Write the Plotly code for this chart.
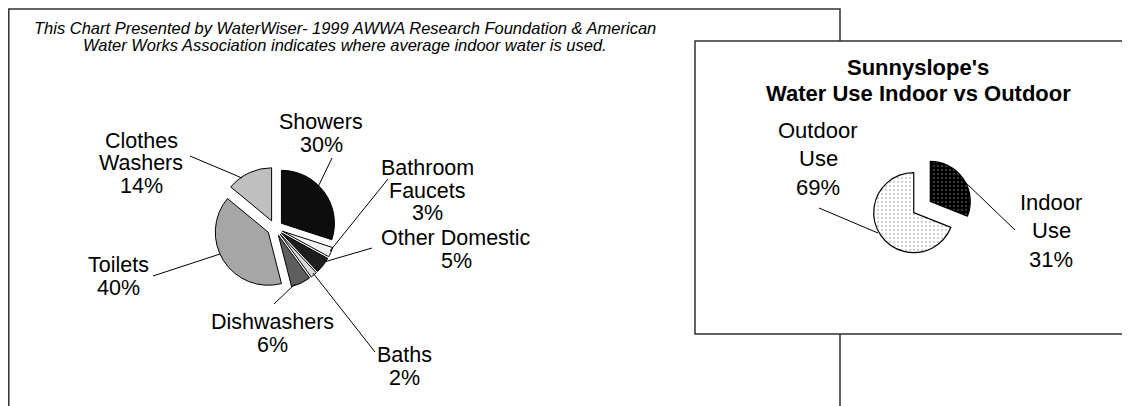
import plotly.graph_objects as go

# page body has an 8px margin; the figure fills the rest of the 1130x406 window
OX, OY = 8, 8
W, H = 1130 - OX, 406 - OY

# ---------------- data ----------------
indoor_categories = ["Showers", "Bathroom\nFaucets", "Other Domestic", "Baths",
                     "Dishwashers", "Toilets", "Clothes\nWashers"]
indoor_values = [30, 3, 5, 2, 6, 40, 14]
indoor_colors = ["#0d0d0d", "#f4f4f4", "#1e1e1e", "#d9d9d9", "#5e5e5e", "#a6a6a6", "#bfbfbf"]

split_categories = ["Indoor\nUse", "Outdoor\nUse"]
split_values = [31, 69]

subtitle_lines = ["This Chart Presented by WaterWiser- 1999 AWWA Research Foundation & American",
                  "Water Works Association indicates where average indoor water is used."]
right_title_lines = ["Sunnyslope's", "Water Use Indoor vs Outdoor"]

# ---------------- layout helpers (window pixel -> paper) ----------------
def px(x):
    return (x - OX) / W

def py(y):
    return 1 - (y - OY) / H

FONT = "Liberation Sans, Arial, sans-serif"

fig = go.Figure()

# left pie
lc = (275, 228); lr = 53; lpull = 0.15
lh = lr * (1 + lpull)
fig.add_trace(go.Pie(
    labels=[c.replace("\n", " ") for c in indoor_categories],
    values=indoor_values,
    sort=False, direction="clockwise", rotation=0,
    pull=[lpull] * len(indoor_values),
    marker=dict(colors=indoor_colors, line=dict(color="#000000", width=1)),
    textinfo="none", hoverinfo="label+percent",
    domain=dict(x=[px(lc[0] - lh), px(lc[0] + lh)], y=[py(lc[1] + lh), py(lc[1] - lh)]),
    showlegend=False,
))

# right pie
rc = (922, 207); rr = 40; rpull = 0.25
rh = rr * (1 + rpull)
fig.add_trace(go.Pie(
    labels=[c.replace("\n", " ") for c in split_categories],
    values=split_values,
    sort=False, direction="clockwise", rotation=0,
    pull=[rpull, rpull],
    marker=dict(
        colors=["#000000", "#ffffff"],
        line=dict(color="#000000", width=1.2),
        pattern=dict(shape=[".", "."], fgcolor=["#8c8c8c", "#909090"],
                     bgcolor=["#000000", "#ffffff"], size=4, solidity=0.12),
    ),
    textinfo="none", hoverinfo="label+percent",
    domain=dict(x=[px(rc[0] - rh), px(rc[0] + rh)], y=[py(rc[1] + rh), py(rc[1] - rh)]),
    showlegend=False,
))

shapes = []
# left box
shapes.append(dict(type="rect", xref="paper", yref="paper", layer="below",
                   x0=px(8.8), x1=px(840), y0=py(9), y1=py(440),
                   line=dict(color="#303030", width=1.5), fillcolor="rgba(0,0,0,0)"))
# right box (covers left box)
shapes.append(dict(type="rect", xref="paper", yref="paper", layer="below",
                   x0=px(695), x1=px(1160), y0=py(41), y1=py(334),
                   line=dict(color="#303030", width=1.5), fillcolor="#ffffff"))

annotations = []

def add_lines(lines, cx, y0, dy, size, bold=False, italic=False):
    for i, t in enumerate(lines):
        txt = t
        if bold:
            txt = "<b>" + txt + "</b>"
        if italic:
            txt = "<i>" + txt + "</i>"
        annotations.append(dict(text=txt, x=px(cx), y=py(y0 + i * dy), xref="paper", yref="paper",
                                xanchor="center", yanchor="middle", showarrow=False,
                                font=dict(family=FONT, size=size, color="#000000")))

def leader(x0, y0, x1, y1):
    shapes.append(dict(type="line", xref="paper", yref="paper", layer="above",
                       x0=px(x0), y0=py(y0), x1=px(x1), y1=py(y1),
                       line=dict(color="#000000", width=1)))

# subtitle
add_lines(subtitle_lines, 345, 28, 17, 16.5, italic=True)

# left labels: (center x, first line y), leader (label end -> slice edge)
left_label_pos = [(321, 122), (427, 168), (456, 238), (404, 355), (272, 322), (118, 265), (141, 141)]
left_leaders = [(332, 158, 318, 187), (388, 179, 330, 251), (372, 248, 324, 262),
                (375, 352, 313, 273), (274, 304, 295, 284), (153, 276, 220, 254),
                (190, 156, 242, 178)]
for cat, val, (cx, cy), ld in zip(indoor_categories, indoor_values, left_label_pos, left_leaders):
    lines = cat.split("\n") + [f"{val}%"]
    add_lines(lines, cx, cy, 22.5, 21.5)
    leader(*ld)

# right title
add_lines(right_title_lines, 918, 67, 27, 22, bold=True)

right_label_pos = [(1051, 202), (818, 130)]
right_leaders = [(1015, 230, 965, 182), (819, 208, 878, 233)]
for cat, val, (cx, cy), ld in zip(split_categories, split_values, right_label_pos, right_leaders):
    lines = cat.split("\n") + [f"{val}%"]
    add_lines(lines, cx, cy, 28.5, 22)
    leader(*ld)

fig.update_layout(
    width=W, height=H, autosize=False,
    margin=dict(l=0, r=0, t=0, b=0),
    paper_bgcolor="#ffffff", plot_bgcolor="#ffffff",
    shapes=shapes, annotations=annotations,
    font=dict(family=FONT),
)

fig.write_html("out.html")
